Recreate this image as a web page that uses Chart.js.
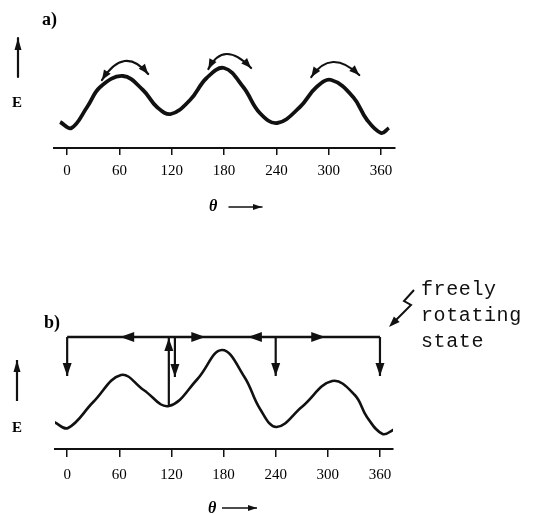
<!DOCTYPE html>
<html><head><meta charset="utf-8">
<script src="https://cdn.jsdelivr.net/npm/chart.js@4"></script>
<style>
html,body{margin:0;padding:0;background:#fff;}
#wrap{position:relative;width:546px;height:514px;overflow:hidden;background:#fff;}
canvas{position:absolute;left:0;}
.lbl{position:absolute;font-family:'Liberation Serif','Times New Roman',serif;font-weight:bold;color:#000;line-height:1;white-space:nowrap;}
.th{font-style:italic;}
.mono{position:absolute;font-family:'Liberation Mono','Courier New',monospace;font-size:20px;line-height:26px;letter-spacing:0.6px;color:#111;white-space:pre;}
</style></head>
<body><div id="wrap">
<canvas id="cA" width="546" height="220" style="top:0"></canvas>
<canvas id="cB" width="546" height="294" style="top:220px"></canvas>
<div class="lbl" style="left:42px;top:10px;font-size:18px">a)</div>
<div class="lbl" style="left:12px;top:95px;font-size:15px">E</div>
<div class="lbl th" style="left:209px;top:198px;font-size:16px">θ</div>
<div class="lbl" style="left:44px;top:313px;font-size:18px">b)</div>
<div class="lbl" style="left:12px;top:420px;font-size:15px">E</div>
<div class="lbl th" style="left:208px;top:500px;font-size:16px">θ</div>
<div class="mono" style="left:421px;top:277px">freely
rotating
state</div>
</div>
<script>
// ---- data ----
const tickDegrees = [0, 60, 120, 180, 240, 300, 360];

// panel a: torsional energy curve (deg, relative energy)
const thetaA  = [-8, 5, 23, 38, 64, 87, 103, 119, 141, 160, 180, 202, 221, 241, 267, 286, 303, 328, 344, 360, 369];
const energyA = [26, 20, 41, 61, 72, 58, 41, 34, 48, 70, 80, 61, 35, 25, 41, 61, 68, 51, 28, 15, 20];
// panel a: libration arcs above each maximum [deg, E]
const swingStart = [[40, 68], [162, 79], [280, 71]];
const swingTop   = [[66, 87], [183, 94], [305, 86]];
const swingEnd   = [[93, 74], [211, 80], [335, 73]];

// panel b: energy curve
const thetaB  = [-15, 1, 30, 62, 88, 117, 150, 178, 204, 222, 241, 270, 305, 331, 345, 363, 377];
const energyB = [27, 21, 47, 74, 59, 43, 70, 99, 72, 40, 22, 42, 68, 54, 32, 15, 20];
// panel b: freely rotating level and transitions
const freeLevel = 112;
const freeSpan = [0, 360];
const leftHeads = [61, 208];
const rightHeads = [159, 297];
const dropTheta = [0, 124, 240, 360];
const dropEnergy = [73, 72, 73, 73];
const riseTheta = 117;
const riseFrom = 43;

const INK = '#111';

function triangle(ctx, tipX, tipY, dx, dy, len, half) {
  const n = Math.hypot(dx, dy); dx /= n; dy /= n;
  const bx = tipX - dx * len, by = tipY - dy * len;
  ctx.beginPath();
  ctx.moveTo(tipX, tipY);
  ctx.lineTo(bx - dy * half, by + dx * half);
  ctx.lineTo(bx + dy * half, by - dx * half);
  ctx.closePath();
  ctx.fill();
}
function arrowLine(ctx, x1, y1, x2, y2, lw, len, half) {
  ctx.lineWidth = lw;
  ctx.beginPath(); ctx.moveTo(x1, y1); ctx.lineTo(x2, y2); ctx.stroke();
  triangle(ctx, x2, y2, x2 - x1, y2 - y1, len, half);
}

function xAxisOpts(min, max, height, tickLen, pad) {
  return {
    type: 'linear', min: min, max: max,
    afterBuildTicks: s => { s.ticks = tickDegrees.map(v => ({ value: v })); },
    afterFit: s => { s.height = height; },
    grid: { drawOnChartArea: false, drawTicks: true, tickLength: tickLen, color: INK, lineWidth: 1.5 },
    border: { display: true, color: INK, width: 2 },
    ticks: { color: '#000', padding: pad, maxRotation: 0, autoSkip: false,
      font: { family: "'Liberation Serif', 'Times New Roman', serif", size: 15 } }
  };
}

const decoA = {
  id: 'decoA',
  afterDatasetsDraw(chart) {
    const ctx = chart.ctx, x = chart.scales.x, y = chart.scales.y;
    ctx.save();
    ctx.strokeStyle = INK; ctx.fillStyle = INK; ctx.lineCap = 'round';
    for (let i = 0; i < swingStart.length; i++) {
      const p0 = [x.getPixelForValue(swingStart[i][0]), y.getPixelForValue(swingStart[i][1])];
      const pm = [x.getPixelForValue(swingTop[i][0]), y.getPixelForValue(swingTop[i][1])];
      const p2 = [x.getPixelForValue(swingEnd[i][0]), y.getPixelForValue(swingEnd[i][1])];
      const c = [2 * pm[0] - (p0[0] + p2[0]) / 2, 2 * pm[1] - (p0[1] + p2[1]) / 2];
      ctx.lineWidth = 2.2;
      ctx.beginPath(); ctx.moveTo(p0[0], p0[1]); ctx.quadraticCurveTo(c[0], c[1], p2[0], p2[1]); ctx.stroke();
      triangle(ctx, p0[0], p0[1], p0[0] - c[0], p0[1] - c[1], 10, 4);
      triangle(ctx, p2[0], p2[1], p2[0] - c[0], p2[1] - c[1], 10, 4);
    }
    // E axis arrow
    arrowLine(ctx, 18, 77, 18, 38, 2.2, 12, 3.5);
    // theta arrow
    arrowLine(ctx, 229, 207, 262, 207, 1.5, 9, 3);
    ctx.restore();
  }
};

const decoB = {
  id: 'decoB',
  afterDatasetsDraw(chart) {
    const ctx = chart.ctx, x = chart.scales.x, y = chart.scales.y;
    ctx.save();
    ctx.strokeStyle = INK; ctx.fillStyle = INK; ctx.lineCap = 'butt';
    const yl = y.getPixelForValue(freeLevel);
    leftHeads.forEach(t => {
      const px = x.getPixelForValue(t);
      triangle(ctx, px, yl, -1, 0, 14, 5);
    });
    rightHeads.forEach(t => {
      const px = x.getPixelForValue(t);
      triangle(ctx, px, yl, 1, 0, 14, 5);
    });
    dropTheta.forEach((t, i) => {
      const px = x.getPixelForValue(t);
      arrowLine(ctx, px, yl, px, y.getPixelForValue(dropEnergy[i]), 2.2, 13, 4.5);
    });
    const rx = x.getPixelForValue(riseTheta);
    arrowLine(ctx, rx, y.getPixelForValue(riseFrom), rx, yl + 1, 2.2, 13, 4.5);
    // E axis arrow
    arrowLine(ctx, 17, 181, 17, 140, 2.2, 12, 3.5);
    // theta arrow
    arrowLine(ctx, 222, 288, 257, 288, 1.5, 9, 3);
    // lightning pointer to the freely rotating level
    ctx.lineWidth = 2;
    ctx.beginPath();
    ctx.moveTo(414, 70); ctx.lineTo(404, 81); ctx.lineTo(411, 85); ctx.lineTo(395, 101);
    ctx.stroke();
    triangle(ctx, 389, 107, -1, 1, 11, 4);
    ctx.restore();
  }
};

new Chart(document.getElementById('cA'), {
  type: 'line',
  data: { datasets: [{
    data: thetaA.map((t, i) => ({ x: t, y: energyA[i] })),
    borderColor: INK, borderWidth: 3.8, pointRadius: 0, tension: 0.4, fill: false
  }] },
  options: {
    responsive: false, animation: false, devicePixelRatio: 1,
    layout: { padding: { left: 54, right: 151, top: 48, bottom: 0 } },
    plugins: { legend: { display: false }, tooltip: { enabled: false } },
    scales: {
      x: xAxisOpts(-15, 376, 72, 7, 7),
      y: { display: false, min: 0, max: 100 }
    }
  },
  plugins: [decoA]
});

new Chart(document.getElementById('cB'), {
  type: 'line',
  data: { datasets: [{
    data: thetaB.map((t, i) => ({ x: t, y: energyB[i] })),
    borderColor: INK, borderWidth: 2.6, pointRadius: 0, tension: 0.4, fill: false
  }, {
    data: freeSpan.map(t => ({ x: t, y: freeLevel })),
    borderColor: INK, borderWidth: 2.6, pointRadius: 0, tension: 0, fill: false
  }] },
  options: {
    responsive: false, animation: false, devicePixelRatio: 1,
    layout: { padding: { left: 55, right: 153, top: 99, bottom: 0 } },
    plugins: { legend: { display: false }, tooltip: { enabled: false } },
    scales: {
      x: xAxisOpts(-14, 375, 65, 8, 9),
      y: { display: false, min: 0, max: 130 }
    }
  },
  plugins: [decoB]
});
</script>
</body></html>
